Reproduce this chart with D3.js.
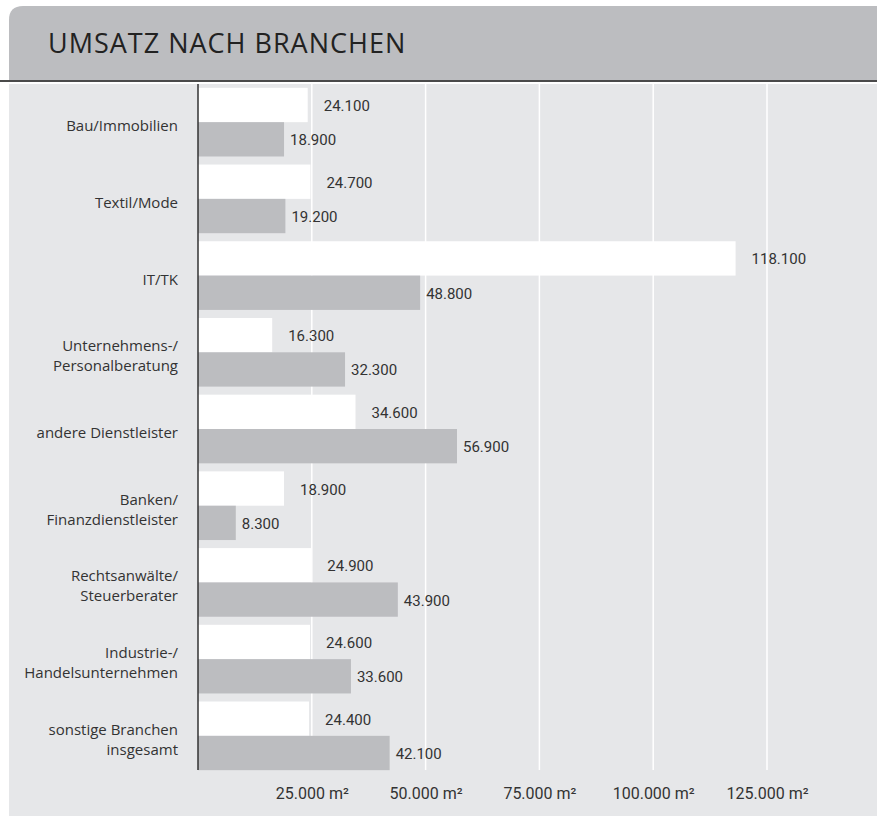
<!DOCTYPE html>
<html lang="de">
<head>
<meta charset="utf-8">
<script src="https://cdn.jsdelivr.net/npm/d3@7"></script>
<style>
    body { margin: 0; background: #fff; }
    .cat text { font-family: "Open Sans", sans-serif; font-size: 15px; fill: #333; }
    .val { font-family: Roboto, sans-serif; font-size: 15px; fill: #333; }
    .xaxis text { font-family: Roboto, sans-serif; font-size: 16px; fill: #333; }
</style>
</head>
<body>
<script>
// data
const categories = [
    "Bau/Immobilien",
    "Textil/Mode",
    "IT/TK",
    "Unternehmens-/\nPersonalberatung",
    "andere Dienstleister",
    "Banken/\nFinanzdienstleister",
    "Rechtsanwälte/\nSteuerberater",
    "Industrie-/\nHandelsunternehmen",
    "sonstige Branchen\ninsgesamt"
];
const seriesNames = ["weiss", "grau"];
const whiteValues = [24100, 24700, 118100, 16300, 34600, 18900, 24900, 24600, 24400];
const grayValues  = [18900, 19200, 48800, 32300, 56900, 8300, 43900, 33600, 42100];
const tickValues = [25000, 50000, 75000, 100000, 125000];
const title = "UMSATZ NACH BRANCHEN";

const w = 877, h = 816;
const de = d3.formatLocale({decimal: ",", thousands: ".", grouping: [3], currency: ["", " €"]});
const fmt = de.format(",d");

let svg = d3.select("body").append("svg")
    .attr("width", w)
    .attr("height", h);

// header
let hx = 9, hy = 6, hb = 80, r = 14;
svg.append("path")
    .attr("d", `M${hx},${hb} L${hx},${hy + r} Q${hx},${hy} ${hx + r},${hy} L${w},${hy} L${w},${hb} Z`)
    .attr("fill", "#bcbdc0");

svg.append("text")
    .attr("x", 48)
    .attr("y", 53)
    .attr("font-family", "'Open Sans', sans-serif")
    .attr("font-size", "27px")
    .attr("letter-spacing", "1px")
    .attr("fill", "#222")
    .text(title);

svg.append("line")
    .attr("x1", 0).attr("x2", w)
    .attr("y1", 81).attr("y2", 81)
    .attr("stroke", "#4a4a4a")
    .attr("stroke-width", 2);

// panel
svg.append("rect")
    .attr("x", 9).attr("y", 84)
    .attr("width", w - 9).attr("height", h - 84)
    .attr("fill", "#e6e7e9");

let plotTop = 84, plotBottom = 770;

let xScale = d3.scaleLinear()
    .domain([0, 125000])
    .range([198, 767]);

let yScale = d3.scaleBand()
    .domain(categories)
    .range([84, 774])
    .paddingInner(0.105)
    .paddingOuter(0.05);

let ySub = d3.scaleBand()
    .domain(seriesNames)
    .range([0, yScale.bandwidth()]);

// gridlines
svg.append("g")
    .selectAll("line")
    .data(tickValues)
    .enter()
    .append("line")
    .attr("x1", d => xScale(d)).attr("x2", d => xScale(d))
    .attr("y1", plotTop).attr("y2", plotBottom)
    .attr("stroke", "#fff")
    .attr("stroke-width", 1.5);

let rows = categories.map((c, i) => ({cat: c, vals: [whiteValues[i], grayValues[i]]}));

let groups = svg.selectAll("g.row")
    .data(rows)
    .enter()
    .append("g")
    .attr("class", "row")
    .attr("transform", d => "translate(0," + yScale(d.cat) + ")");

let barColors = ["#ffffff", "#bcbdc0"];
let labelGap = [16, 6];

groups.selectAll("rect")
    .data(d => d.vals.map((v, j) => ({v: v, s: seriesNames[j], j: j})))
    .enter()
    .append("rect")
    .attr("x", xScale(0))
    .attr("y", d => ySub(d.s))
    .attr("width", d => xScale(d.v) - xScale(0))
    .attr("height", ySub.bandwidth())
    .attr("fill", d => barColors[d.j]);

groups.selectAll("text.val")
    .data(d => d.vals.map((v, j) => ({v: v, s: seriesNames[j], j: j})))
    .enter()
    .append("text")
    .attr("class", "val")
    .attr("x", d => xScale(d.v) + labelGap[d.j])
    .attr("y", d => ySub(d.s) + ySub.bandwidth() / 2 + 6)
    .text(d => fmt(d.v));

// category labels
let catG = svg.append("g").attr("class", "cat");
catG.selectAll("text")
    .data(categories)
    .enter()
    .append("text")
    .attr("text-anchor", "end")
    .each(function (d) {
        let lines = d.split("\n");
        let cy = yScale(d) + yScale.bandwidth() / 2 + 4;
        let t = d3.select(this);
        lines.forEach((ln, k) => {
            t.append("tspan")
                .attr("x", 178)
                .attr("y", cy + (k - (lines.length - 1) / 2) * 20 + 5)
                .text(ln);
        });
    });

// axis line
svg.append("line")
    .attr("x1", xScale(0)).attr("x2", xScale(0))
    .attr("y1", plotTop).attr("y2", plotBottom)
    .attr("stroke", "#333")
    .attr("stroke-width", 1.5);

// x axis labels
let xAxis = d3.axisBottom(xScale)
    .tickValues(tickValues)
    .tickSize(0)
    .tickPadding(0)
    .tickFormat(d => fmt(d) + " m²");

let ax = svg.append("g")
    .attr("class", "xaxis")
    .attr("transform", "translate(0,788)")
    .call(xAxis);
ax.select(".domain").remove();
ax.selectAll("text").attr("font-family", null).attr("font-size", null);
</script>
</body>
</html>
